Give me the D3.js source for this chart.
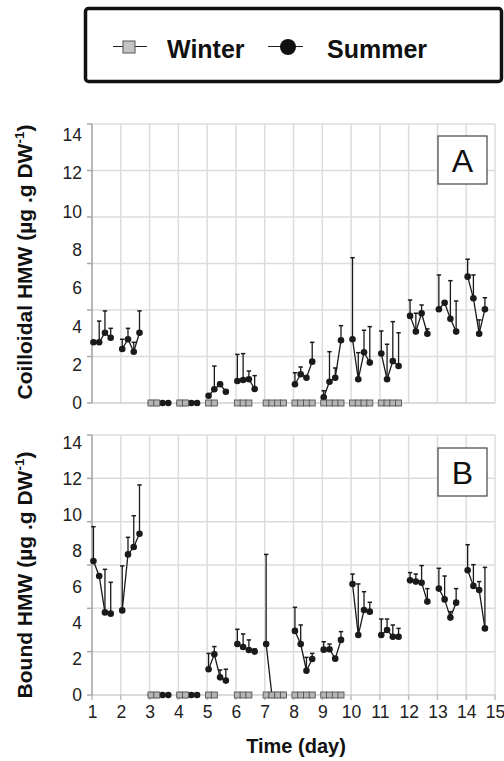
<!DOCTYPE html>
<html><head><meta charset="utf-8">
<script src="https://cdn.jsdelivr.net/npm/d3@7"></script>
<style>
body{margin:0;background:#fff}
svg{display:block;font-family:"Liberation Sans",Arial,Helvetica,sans-serif}
</style>
</head><body>
<svg id="chart" width="504" height="761"></svg>
<script>
// ---------------- DATA ----------------
const days = [1,2,3,4,5,6,7,8,9,10,11,12,13,14];
const slotOffsets = [0.05, 0.25, 0.45, 0.65];      // sampling times within a day
const xTickValues = [1,2,3,4,5,6,7,8,9,10,11,12,13,14,15];
const yTickLabels = [0,2,4,6,8,10,12,14];
const seriesNames = ["Winter", "Summer"];

// Colloidal HMW (panel A), summer means and upper error
const colloidalSummer = [
  [3.17,3.17,3.67,3.41],[2.82,3.33,2.68,3.67],[0,0,0,0],[0,0,0,0],
  [0.38,0.72,0.98,0.59],[1.15,1.20,1.24,0.73],null,
  [0.98,1.50,1.32,2.16],[0.30,1.11,1.32,3.28],[3.33,1.24,2.65,2.11],
  [2.58,1.24,2.19,1.93],[4.55,3.73,4.69,3.62],[4.90,5.24,4.40,3.73],
  [6.60,5.47,3.62,4.90]
];
const colloidalSummerErr = [
  [0,1.11,1.14,0.49],[0.51,0.57,0.49,1.14],[0,0,0,0],[0,0,0,0],
  [0,1.21,0.10,0],[1.39,1.38,0.43,0.70],null,
  [0.60,0.38,0,1.01],[0.34,1.57,0.51,0.76],[4.26,1.39,1.15,1.88],
  [1.18,1.83,2.06,1.74],[0.83,0.96,0.43,0.25],[1.79,0,1.99,1.60],
  [0.91,1.22,0.72,0.60]
];
const colloidalWinter = [
  null,null,[0,0],[0,0],[0,0],[0,0,0],[0,0,0,0],[0,0,0,0],[0,0,0,0],
  [0,0,0,0],[0,0,0,0],null,null,null
];

// Bound HMW (panel B)
const boundSummer = [
  [7.44,6.61,4.59,4.52],[4.70,7.81,8.22,8.96],[0,0,0,0],[0,0,0,0],
  [1.43,2.26,0.98,0.80],[2.83,2.67,2.50,2.41],[2.83,0,0,0],
  [3.56,2.83,1.35,2.00],[2.52,2.54,2.02,3.06],[6.17,3.33,4.72,4.63],
  [3.33,3.61,3.24,3.24],[6.37,6.30,6.24,5.19],[5.91,5.31,4.30,5.13],
  [6.93,6.06,5.83,3.70]
];
const boundSummerErr = [
  [1.91,0,2.39,1.74],[2.47,0.95,1.74,2.71],[0,0,0,0],[0,0,0,0],
  [0.88,0.43,0.41,0.63],[0.82,0.72,0.56,0.15],[4.98,0,0,0],
  [1.31,1.06,0.74,0.31],[0.44,0.29,0,0.46],[0.55,2.84,1.02,0.52],
  [0.89,0.61,0.65,0.46],[0.43,0.42,0.95,0.72],[1.13,1.30,0.33,0.78],
  [1.42,1.18,0.47,3.39]
];
const boundWinter = [
  null,null,[0,0],[0,0],[0,0],[0,0,0],[0,0,0,0],[0,0,0,0],[0,0,0,0],
  null,null,null,null,null
];

// ---------------- LAYOUT ----------------
const svg = d3.select("#chart");
const left = 92, right = 495;
const x = d3.scaleLinear().domain([1,15]).range([left,right]);

const panels = [
  {top:124, bottom:403, lab14:135, letter:"A", title:"Coilloidal HMW (µg .g DW", titleY:262,
   summer:colloidalSummer, err:colloidalSummerErr, winter:colloidalWinter, xLabels:false, boxY:136},
  {top:435, bottom:695, lab14:443, letter:"B", title:"Bound HMW (µg .g DW", titleY:575,
   summer:boundSummer, err:boundSummerErr, winter:boundWinter, xLabels:true, boxY:448}
];

panels.forEach(p => {
  const g = svg.append("g");
  const y = d3.scaleLinear().domain([0,14]).range([p.bottom, p.lab14]);
  const grid = d3.scaleLinear().domain([0,6]).range([p.bottom, p.top]);
  const gridIdx = [0,1,2,3,4,5,6];

  // horizontal grid
  g.selectAll(".hg").data(gridIdx.slice(1)).join("line")
    .attr("x1",left).attr("x2",right)
    .attr("y1",d=>grid(d)).attr("y2",d=>grid(d))
    .attr("stroke","#dcdcdc").attr("stroke-width",1.5);
  // vertical grid
  g.selectAll(".vg").data(xTickValues.slice(1)).join("line")
    .attr("x1",d=>x(d)).attr("x2",d=>x(d))
    .attr("y1",p.top).attr("y2",p.bottom)
    .attr("stroke","#dcdcdc").attr("stroke-width",1.5);
  // bottom axis line
  g.append("line").attr("x1",left).attr("x2",right)
    .attr("y1",p.bottom).attr("y2",p.bottom)
    .attr("stroke","#cfcfcf").attr("stroke-width",1.5);
  if (p.xLabels) {
    g.selectAll(".xt").data(xTickValues).join("line")
      .attr("x1",d=>x(d)).attr("x2",d=>x(d))
      .attr("y1",p.bottom).attr("y2",p.bottom+5)
      .attr("stroke","#bdbdbd").attr("stroke-width",1.5);
  }
  // left axis line + ticks at grid positions
  g.append("line").attr("x1",left).attr("x2",left)
    .attr("y1",p.top).attr("y2",p.bottom)
    .attr("stroke","#a8a8a8").attr("stroke-width",1.6);
  g.selectAll(".yt").data(gridIdx).join("line")
    .attr("x1",left-5).attr("x2",left)
    .attr("y1",d=>grid(d)).attr("y2",d=>grid(d))
    .attr("stroke","#a8a8a8").attr("stroke-width",1.5);

  // y tick labels
  const ya = g.append("g").attr("transform",`translate(${left},0)`)
    .call(d3.axisLeft(y).tickValues(yTickLabels).tickSize(0).tickPadding(10).tickFormat(d3.format("d")));
  ya.select(".domain").remove();
  ya.selectAll("text").attr("font-size",17.5).attr("fill","#222")
    .attr("font-family","'Liberation Sans',Arial,sans-serif");

  // x tick labels
  if (p.xLabels) {
    const xa = g.append("g").attr("transform",`translate(0,${p.bottom})`)
      .call(d3.axisBottom(x).tickValues(xTickValues).tickSize(0).tickPadding(11).tickFormat(d3.format("d")));
    xa.select(".domain").remove();
    xa.selectAll("text").attr("font-size",17.5).attr("fill","#222")
      .attr("font-family","'Liberation Sans',Arial,sans-serif");
  }

  // y title
  const t = g.append("text")
    .attr("transform",`translate(32,${p.titleY}) rotate(-90)`)
    .attr("text-anchor","middle").attr("font-size",21).attr("font-weight","bold").attr("fill","#111");
  t.append("tspan").text(p.title);
  t.append("tspan").attr("font-size",13.5).attr("dy",-8).text("-1");
  t.append("tspan").attr("dy",8).text(")");

  // summer series
  const summerG = g.append("g");
  days.forEach((d,i) => {
    const vals = p.summer[i];
    if (!vals) return;
    const errs = p.err[i];
    const pts = vals.map((v,k)=>({x:d+slotOffsets[k], v, e:errs[k]}));
    // error bars
    pts.filter(q=>q.e>0).forEach(q=>{
      summerG.append("line").attr("x1",x(q.x)).attr("x2",x(q.x))
        .attr("y1",y(q.v)).attr("y2",y(q.v+q.e)).attr("stroke","#1a1a1a").attr("stroke-width",1.3);
      summerG.append("line").attr("x1",x(q.x)-2.2).attr("x2",x(q.x)+2.2)
        .attr("y1",y(q.v+q.e)).attr("y2",y(q.v+q.e)).attr("stroke","#1a1a1a").attr("stroke-width",1.5);
    });
    summerG.append("path").datum(pts)
      .attr("d",d3.line().x(q=>x(q.x)).y(q=>y(q.v)))
      .attr("fill","none").attr("stroke","#1a1a1a").attr("stroke-width",1.3);
    summerG.selectAll(null).data(pts).join("circle")
      .attr("cx",q=>x(q.x)).attr("cy",q=>y(q.v)).attr("r",3.3).attr("fill","#1a1a1a");
  });

  // winter series (squares on zero)
  const winterG = g.append("g");
  days.forEach((d,i) => {
    const vals = p.winter[i];
    if (!vals) return;
    winterG.selectAll(null).data(vals.map((v,k)=>({x:d+slotOffsets[k], v}))).join("rect")
      .attr("x",q=>x(q.x)-3).attr("y",q=>y(q.v)-3).attr("width",6).attr("height",6)
      .attr("fill","#b5b5b5").attr("stroke","#555").attr("stroke-width",0.9);
  });

  // panel letter box
  g.append("rect").attr("x",438).attr("y",p.boxY).attr("width",49).attr("height",48)
    .attr("fill","#fff").attr("stroke","#444").attr("stroke-width",1.2);
  g.append("text").attr("x",462.5).attr("y",p.boxY+36).attr("text-anchor","middle")
    .attr("font-size",32).attr("fill","#111").text(p.letter);
});

// x title
svg.append("text").attr("x",296).attr("y",753).attr("text-anchor","middle")
  .attr("font-size",20).attr("font-weight","bold").attr("fill","#111").text("Time (day)");

// ---------------- LEGEND ----------------
const lg = svg.append("g");
lg.append("rect").attr("x",85.5).attr("y",8.5).attr("width",416).attr("height",73).attr("rx",3)
  .attr("fill","#fff").attr("stroke","#111").attr("stroke-width",3.5);
// winter
lg.append("line").attr("x1",113).attr("x2",147).attr("y1",46.5).attr("y2",46.5).attr("stroke","#222").attr("stroke-width",1.2);
lg.append("rect").attr("x",123).attr("y",41).attr("width",12).attr("height",12)
  .attr("fill","#c4c4c4").attr("stroke","#555").attr("stroke-width",1);
lg.append("text").attr("x",167).attr("y",58).attr("font-size",25).attr("font-weight","bold").attr("fill","#111").text(seriesNames[0]);
// summer
lg.append("line").attr("x1",268).attr("x2",303).attr("y1",46.5).attr("y2",46.5).attr("stroke","#222").attr("stroke-width",1.2);
lg.append("circle").attr("cx",288).attr("cy",47).attr("r",8).attr("fill","#111");
lg.append("text").attr("x",327).attr("y",58).attr("font-size",25).attr("font-weight","bold").attr("fill","#111").text(seriesNames[1]);
</script>
</body></html>
